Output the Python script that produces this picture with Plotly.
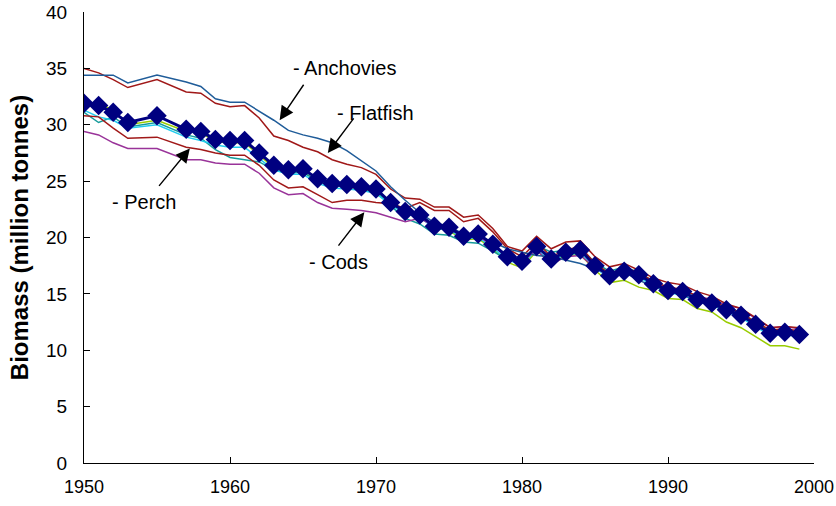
import plotly.graph_objects as go

# years with data (no 1954, 1956)
years = [1950, 1951, 1952, 1953, 1955] + list(range(1957, 2000))

total = [31.9, 31.7, 31.1, 30.2, 30.8, 29.6, 29.4, 28.7, 28.6, 28.6,
         27.5, 26.4, 26.0, 26.1, 25.2, 24.8, 24.7, 24.5, 24.3, 23.1,
         22.3, 22.0, 21.0, 20.9, 20.1, 20.3, 19.4, 18.3, 17.9, 19.2,
         18.1, 18.7, 18.9, 17.5, 16.6, 17.0, 16.7, 15.9, 15.3, 15.2,
         14.5, 14.2, 13.6, 13.1, 12.3, 11.5, 11.6, 11.4]

anchovies = [34.4, 34.4, 34.4, 33.7, 34.4, 33.8, 33.4, 32.3, 32.0, 32.0,
             31.2, 30.4, 29.5, 29.1, 28.8, 28.4, 27.7, 26.8, 25.9, 24.5,
             23.3, 22.2, 21.3, 21.0, 20.3, 20.1, 19.6, 19.0, 18.7, 18.4,
             18.3, 18.0, 17.7, 17.2, 16.8, 16.9, 16.2, 15.7, 15.2, 14.9,
             14.4, 14.0, 13.5, 13.0, 12.3, 11.6, 11.7, 11.6]

flatfish = [35.0, 34.6, 34.0, 33.3, 34.0, 32.9, 32.8, 31.9, 31.6, 31.7,
            30.6, 29.0, 28.6, 28.0, 27.6, 26.9, 26.5, 26.2, 25.6, 24.3,
            23.5, 23.4, 22.7, 22.7, 21.8, 22.0, 20.8, 19.2, 18.8, 20.1,
            19.0, 19.6, 19.7, 18.3, 17.4, 17.7, 17.1, 16.4, 16.0, 15.8,
            15.2, 14.8, 14.1, 13.7, 12.9, 12.0, 12.1, 12.0]

perch = [30.8, 30.7, 29.7, 28.8, 28.9, 28.0, 27.8, 27.5, 27.3, 27.3,
         26.4, 25.1, 24.4, 24.5, 23.8, 23.1, 23.3, 23.3, 23.1, 23.0,
         22.6, 23.1, 22.4, 22.4, 21.4, 21.7, 20.5, 19.0, 18.3, 19.6,
         18.3, 18.9, 19.2, 17.7, 16.8, 17.3, 16.9, 16.1, 15.6, 15.4,
         14.8, 14.4, 13.8, 13.3, 12.5, 11.8, 11.9, 11.7]

cods = [29.4, 29.1, 28.4, 27.9, 27.9, 26.9, 26.9, 26.6, 26.5, 26.5,
        25.7, 24.4, 23.8, 23.9, 23.1, 22.6, 22.5, 22.4, 22.2, 21.8,
        21.4, 21.7, 21.0, 20.8, 20.0, 20.1, 19.3, 18.2, 17.8, 18.9,
        17.6, 18.3, 18.4, 17.3, 16.6, 17.0, 16.7, 16.0, 15.5, 15.4,
        14.8, 14.5, 14.0, 13.7, 12.8, 12.0, 12.1, 11.9]

cyan_series = [31.3, 30.7, 30.4, 29.7, 30.0, 28.9, 28.6, 28.2, 28.0, 28.0,
               27.0, 26.0, 25.6, 25.6, 24.8, 24.4, 24.3, 24.2, 23.9, 22.9,
               22.1, 21.8, 20.8, 20.7, 19.9, 20.0, 19.1, 18.0, 17.6, 18.9,
               17.9, 18.5, 18.6, 17.3, 16.4, 16.8, 16.5, 15.7, 15.1, 14.9,
               14.3, 14.0, 13.4, 12.9, 12.1, 11.3, 11.4, 11.2]

teal_series = [31.1, 30.2, 30.7, 29.8, 30.2, 29.1, 28.8, 27.8, 27.1, 26.9,
               26.7, 26.0, 25.7, 25.8, 25.0, 24.6, 24.6, 24.5, 24.2, 22.8,
               21.7, 21.2, 20.3, 20.2, 19.6, 19.5, 18.8, 18.0, 17.9, 19.3,
               18.7, 18.9, 19.0, 17.8, 17.0, 17.4, 16.9, 16.1, 15.5, 15.4,
               14.7, 14.4, 13.8, 13.3, 12.5, 11.7, 11.8, 11.6]

green_series = [32.0, 31.9, 31.3, 30.0, 30.4, 29.4, 29.3, 28.5, 28.4, 28.4,
                27.3, 26.2, 25.8, 25.8, 25.0, 24.6, 24.5, 24.3, 23.9, 23.0,
                22.2, 21.9, 20.9, 20.6, 19.8, 19.9, 19.0, 17.8, 17.3, 18.8,
                17.8, 18.4, 18.5, 17.1, 16.0, 16.2, 15.6, 15.3, 14.6, 14.5,
                13.7, 13.4, 12.5, 12.0, 11.2, 10.4, 10.4, 10.1]

lines = [
    (green_series, "#99cc00"),
    (teal_series, "#169b9b"),
    (cyan_series, "#22ccee"),
    (cods, "#993399"),
    (perch, "#a01818"),
    (flatfish, "#a01818"),
    (anchovies, "#1f5c99"),
]

fig = go.Figure()
for vals, col in lines:
    fig.add_trace(go.Scatter(x=years, y=vals, mode="lines",
                             line=dict(color=col, width=1.5)))

fig.add_trace(go.Scatter(
    x=years, y=total, mode="lines+markers",
    line=dict(color="#000080", width=3),
    marker=dict(symbol="diamond", size=15, color="#000080")
))

# arrows: (label, head x, head y, tail dx, tail dy, text x, text y)
labels = [
    ("- Anchovies", 1963.4, 30.4, 25, -37, 1964.2, 35.0),
    ("- Flatfish", 1966.7, 27.5, 27, -36, 1967.2, 31.0),
    ("- Perch", 1957.25, 27.9, -32, 39, 1951.8, 23.15),
    ("- Cods", 1969.2, 22.25, -27, 35, 1965.3, 17.8),
]
for txt, hx, hy, ax, ay, tx, ty in labels:
    fig.add_annotation(x=hx, y=hy, ax=ax, ay=ay, text="", showarrow=True,
                       arrowhead=2, arrowsize=2, arrowwidth=1.4,
                       arrowcolor="black")
    fig.add_annotation(x=tx, y=ty, text=txt, showarrow=False,
                       xanchor="left", yanchor="middle",
                       font=dict(size=20, color="black"))

fig.update_layout(
    width=836, height=506,
    margin=dict(l=84, r=22, t=12, b=43),
    plot_bgcolor="white", paper_bgcolor="white",
    showlegend=False,
    font=dict(family="Liberation Sans, Arial, sans-serif", size=18, color="black"),
    xaxis=dict(range=[1950, 2000], tick0=1950, dtick=10, ticks="inside",
               ticklen=6, tickcolor="black", showline=True, linecolor="black",
               linewidth=1, showgrid=False, zeroline=False, automargin=False,
               ticklabeloverflow="allow", ticklabelstandoff=7),
    yaxis=dict(range=[0, 40], dtick=5, ticks="inside", ticklen=6,
               tickcolor="black", showline=True, linecolor="black",
               linewidth=1, showgrid=False, zeroline=False, automargin=False,
               ticklabeloverflow="allow", ticklabelstandoff=12,
               tickfont=dict(size=19),
               title=dict(text="<b>Biomass (million tonnes)</b>",
                          font=dict(size=24), standoff=10)),
)

fig.write_html("out.html", config={"displayModeBar": False},
               post_script="document.body.style.margin='0';")
